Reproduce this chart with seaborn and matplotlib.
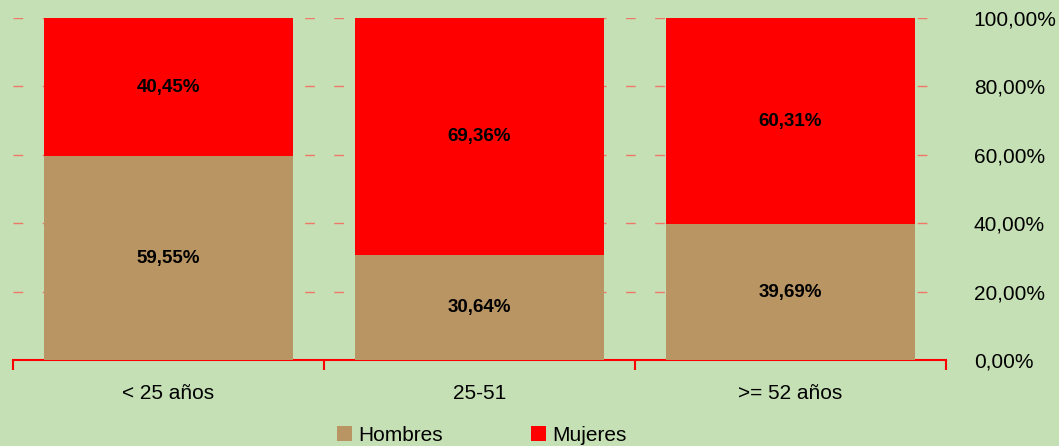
import pandas as pd
import seaborn as sns
import matplotlib.pyplot as plt
from matplotlib.patches import Patch

# Data
categorias = ["< 25 años", "25-51", ">= 52 años"]
hombres = [59.55, 30.64, 39.69]
mujeres = [40.45, 69.36, 60.31]
yticks = [0, 20, 40, 60, 80, 100]

bg = "#C5E0B4"
brown = "#B99563"
red = "#FF0000"

df = pd.DataFrame({"cat": categorias, "Hombres": hombres, "Mujeres": mujeres})
df["total"] = df["Hombres"] + df["Mujeres"]

sns.set_theme(style="white")
plt.rcParams['font.family'] = ['Liberation Sans', 'DejaVu Sans']
plt.rcParams['text.color'] = 'black'
plt.rcParams['xtick.color'] = 'black'
plt.rcParams['ytick.color'] = 'black'

fig = plt.figure(figsize=(10.59, 4.46), dpi=100, facecolor=bg)
ax = fig.add_axes([0.0123, 0.1928, 0.881, 0.767])
ax.set_facecolor(bg)

# stacked bars: total first (red), then Hombres on top of it (brown)
sns.barplot(data=df, x="cat", y="total", color=red, saturation=1, width=0.8, ax=ax,
            zorder=2, edgecolor="none", linewidth=0)
sns.barplot(data=df, x="cat", y="Hombres", color=brown, saturation=1, width=0.8, ax=ax,
            zorder=3, edgecolor="none", linewidth=0)

# labels in the middle of each segment
for i, (h, m) in enumerate(zip(hombres, mujeres)):
    ax.text(i, h / 2, f"{h:.2f}%".replace(".", ","), ha="center", va="center",
            fontsize=13.5, fontweight="bold", color="black", zorder=4)
    ax.text(i, h + m / 2, f"{m:.2f}%".replace(".", ","), ha="center", va="center",
            fontsize=13.5, fontweight="bold", color="black", zorder=4)

ax.set_ylim(0, 100)
ax.set_xlim(-0.5, 2.5)
ax.set_yticks(yticks)
ax.set_yticklabels([f"{v:.2f}%".replace(".", ",") for v in yticks], fontsize=15)
ax.yaxis.tick_right()
ax.tick_params(axis="y", length=0, pad=20)

# dashed grid lines
for v in yticks[1:]:
    ax.axhline(v, color="#F07868", linestyle=(0, (7, 14)), linewidth=1, zorder=1)

# x axis: red line with ticks at category boundaries
ax.set_xticks(range(len(categorias)))
ax.set_xticklabels(categorias, fontsize=15)
ax.set_xticks([-0.5, 0.5, 1.5, 2.5], minor=True)
ax.tick_params(axis="x", which="major", length=0, pad=17)
ax.tick_params(axis="x", which="minor", length=7, width=1.5, color=red, direction="out", bottom=True)
ax.set_xlabel("")
ax.set_ylabel("")

for s in ["top", "left", "right"]:
    ax.spines[s].set_visible(False)
ax.spines["bottom"].set_color(red)
ax.spines["bottom"].set_linewidth(1.5)

handles = [Patch(facecolor=brown, edgecolor="none", label="Hombres"),
           Patch(facecolor=red, edgecolor="none", label="Mujeres")]
fig.legend(handles=handles, loc="lower center", bbox_to_anchor=(0.455, -0.04), ncol=2,
           frameon=False, fontsize=15, handlelength=0.75, handleheight=0.75,
           handletextpad=0.3, columnspacing=4.2)

fig.savefig("out.png", dpi=100, facecolor=bg)
